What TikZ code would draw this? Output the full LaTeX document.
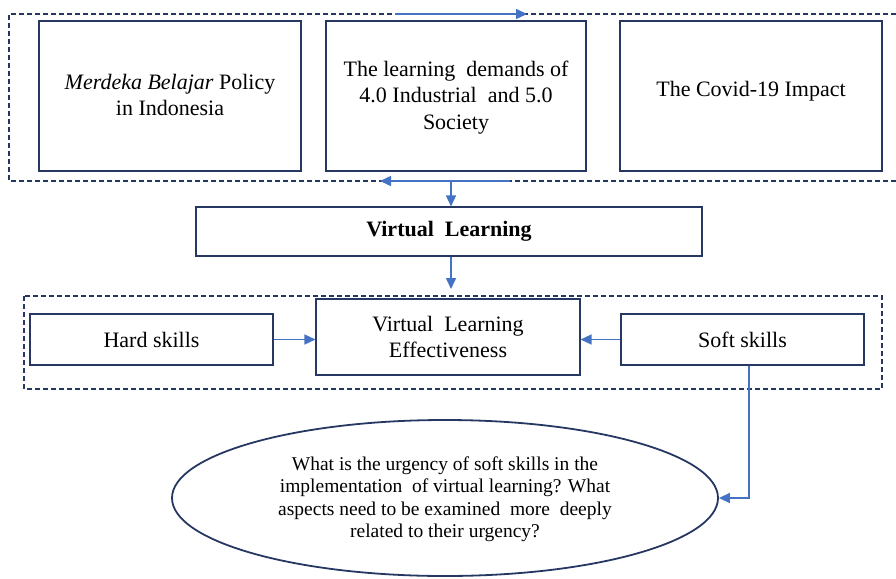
\documentclass[tikz,border=0pt]{standalone}
\usepackage{fontspec}
\setmainfont{Liberation Serif}
\usetikzlibrary{arrows.meta,shapes.geometric}
\definecolor{navy}{RGB}{38,56,98}
\definecolor{arrowblue}{RGB}{68,114,196}

\begin{document}
\begin{tikzpicture}[x=1pt, y=-1pt,
  box/.style={draw=navy, line width=1.1pt, align=center, inner sep=2pt,
    font=\fontsize{22}{26.5}\selectfont},
  group/.style={draw=navy, line width=1.1pt, dash pattern=on 5pt off 3pt},
  arr/.style={draw=arrowblue, line width=1.5pt, -{Triangle[length=11pt,width=10pt]}}]
\useasboundingbox (0,0) rectangle (896,578);
% upper group
\draw [group] (896,14) -- (9,14) -- (9,181) -- (896,181);
\node [box, minimum width=262pt, minimum height=150pt, text depth=2pt] (M) at (170,96) {\textit{Merdeka Belajar} Policy\\in Indonesia};
\node [box, minimum width=260pt, minimum height=150pt, text depth=2pt] (D) at (456,96) {The learning\ \ demands of\\4.0 Industrial\ \ and 5.0\\Society};
\node [box, minimum width=262pt, minimum height=150pt, text depth=14pt] (C) at (751,96) {The Covid-19 Impact};
\coordinate (t1) at (395,14);
\coordinate (t2) at (527,14);
\coordinate (b1) at (510,181);
\coordinate (b2) at (380,181);
\coordinate (b0) at (451,181);
\draw [arr] (t1) -- (t2);
\draw [arr] (b1) -- (b2);
% virtual learning
\node [box, minimum width=506pt, minimum height=49pt, font=\fontsize{22}{26.5}\selectfont\bfseries] (V) at (449,231.5) {Virtual\ \ Learning};
\draw [arr] (b0) -- (b0 |- V.north);
\coordinate (e) at (451,289);
\draw [arr] (e |- V.south) -- (e);
% lower group
\draw [group] (24,296) rectangle (882,389);
\node [box, minimum width=243pt, minimum height=51pt] (H) at (151.5,339.5) {Hard skills};
\node [box, minimum width=264pt, minimum height=76pt] (E) at (448,337) {Virtual\ \ Learning\\Effectiveness};
\node [box, minimum width=243pt, minimum height=51pt] (S) at (742.5,339.5) {Soft skills};
\draw [arr] (H.east) -- (H.east -| E.west);
\draw [arr] (S.west) -- (S.west -| E.east);
% question
\node [ellipse, draw=navy, line width=1.8pt, minimum width=546pt, minimum height=156pt, align=center,
  font=\fontsize{19.5}{22.5}\selectfont, text depth=2pt] (Q) at (445,498) {What is the urgency of soft skills in the\\implementation\ \ of virtual learning? What\\aspects need to be examined\ \ more\ \ deeply\\related to their urgency?};
\draw [arr] ([xshift=6.5pt]S.south) |- (Q.east);
\end{tikzpicture}
\end{document}
